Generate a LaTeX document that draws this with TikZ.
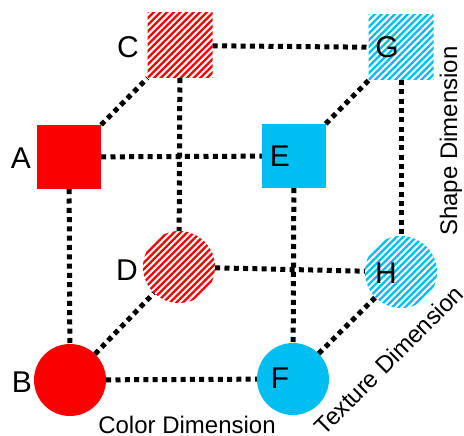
\documentclass[tikz,border=0pt]{standalone}
\usepackage{fontspec}
\setmainfont{Liberation Sans}
\definecolor{cred}{RGB}{250,0,0}
\definecolor{ccyan}{RGB}{0,190,242}
\begin{document}
\begin{tikzpicture}[x=1pt,y=-1pt,
 sq/.style={rectangle, minimum size=64pt, inner sep=0pt},
 rd/.style={circle, minimum size=72pt, inner sep=0pt},
 hatch/.style={path picture={\foreach \k in {-16,...,16}{\draw[#1,line width=2.3pt] ([yshift=\k*6.6pt]path picture bounding box.center) ++(-60pt,-60pt) -- ++(120pt,120pt);}}},
 lbl/.style={inner sep=0pt, font=\fontsize{30}{30}\selectfont},
 dim/.style={inner sep=0pt, font=\fontsize{24}{24}\selectfont},
 dots/.style={line width=5pt, dash pattern=on 5pt off 4.3pt}]
\useasboundingbox (0,0) rectangle (464,436);
% shapes
\node[sq, fill=cred] (A) at (69,157) {};
\node[sq, minimum size=65pt, hatch=cred] (C) at (180,45.5) {};
\node[sq, fill=ccyan] (E) at (294,156) {};
\node[sq, minimum size=65pt, hatch=ccyan] (G) at (401,47.5) {};
\node[rd, fill=cred] (B) at (70,380) {};
\node[rd, hatch=cred] (D) at (179,267) {};
\node[rd, fill=ccyan] (F) at (293,379) {};
\node[rd, hatch=ccyan] (H) at (401,272) {};
% connectors
\draw[dots] (A) -- (E);
\draw[dots] (C) -- (G);
\draw[dots] (D) -- (H);
\draw[dots] (B) -- (F);
\draw[dots] (A) -- (B);
\draw[dots] (C) -- (D);
\draw[dots] (E) -- (F);
\draw[dots] (G) -- (H);
\draw[dots] (A) -- (C);
\draw[dots] (E) -- (G);
\draw[dots] (B) -- (D);
\draw[dots] (F) -- (H);
% letters
\node[lbl] (la) at (21,158) {A};
\node[lbl] (lc) at (128,47) {C};
\node[lbl] (lb) at (22,382) {B};
\node[lbl] (ld) at (127,270) {D};
\node[lbl] (le) at (280,156) {E};
\node[lbl] (lg) at (387,47) {G};
\node[lbl] (lh) at (386,273) {H};
\node[lbl] (lf) at (280,378) {F};
% dimension labels
\node[dim, anchor=base] (cd) at (187,433) {Color Dimension};
\node[dim, rotate=90, anchor=base] (sd) at (457,141) {Shape Dimension};
\node[dim, rotate=45, anchor=base] (td) at (395,366) {Texture Dimension};
\end{tikzpicture}
\end{document}
